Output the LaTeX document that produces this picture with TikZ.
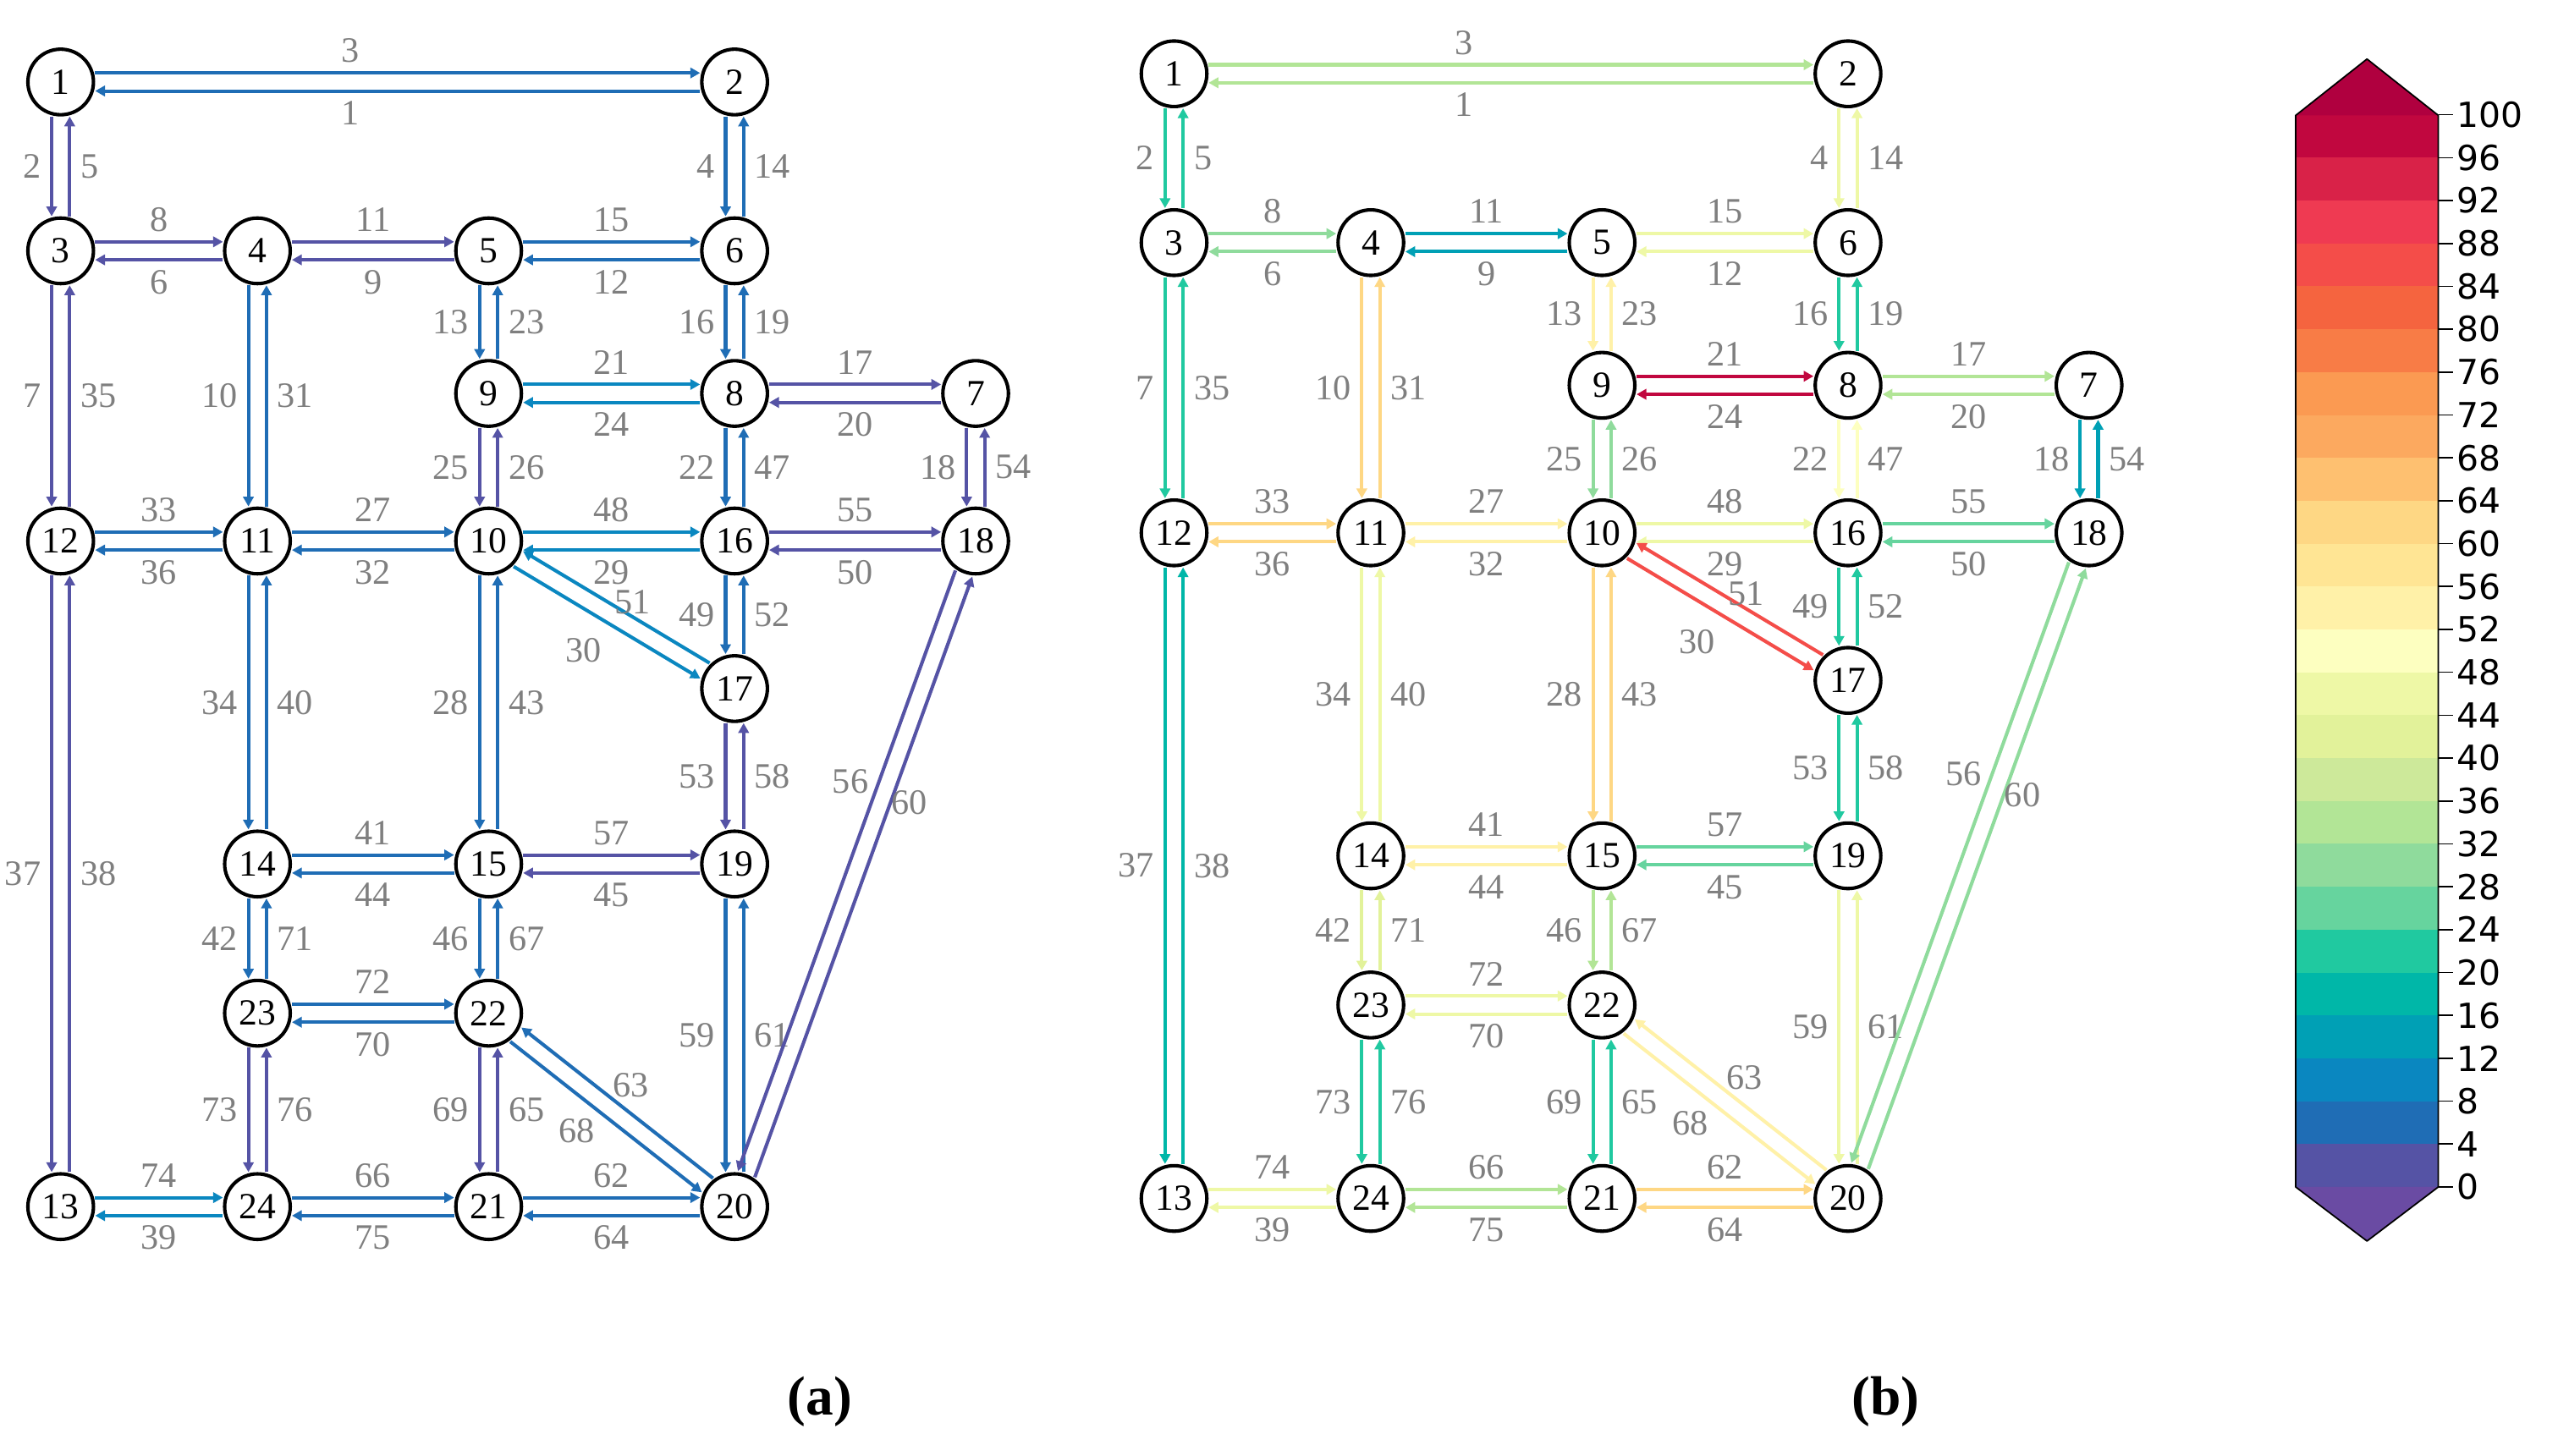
\documentclass[tikz,border=0pt]{standalone}
\usepackage{fontspec}
\setmainfont{Liberation Serif}
\newfontfamily\barfont{DejaVu Sans}
\usetikzlibrary{calc,arrows.meta}
\definecolor{c0}{HTML}{5553A5}\definecolor{c1}{HTML}{1F6DB5}\definecolor{c2}{HTML}{0A87C0}
\definecolor{c3}{HTML}{00A0B5}\definecolor{c4}{HTML}{00B7A8}\definecolor{c5}{HTML}{20C9A0}
\definecolor{c6}{HTML}{66D49E}\definecolor{c7}{HTML}{8FDB9C}\definecolor{c8}{HTML}{B2E596}
\definecolor{c9}{HTML}{CDE99A}\definecolor{c10}{HTML}{E2F29A}\definecolor{c11}{HTML}{EEF8A6}
\definecolor{c12}{HTML}{FDFFC0}\definecolor{c13}{HTML}{FFF1A8}\definecolor{c14}{HTML}{FFE594}
\definecolor{c15}{HTML}{FED784}\definecolor{c16}{HTML}{FEC070}\definecolor{c17}{HTML}{FCA95F}
\definecolor{c18}{HTML}{FB9A52}\definecolor{c19}{HTML}{F87C46}\definecolor{c20}{HTML}{F5643F}
\definecolor{c21}{HTML}{F44D49}\definecolor{c22}{HTML}{EF3A52}\definecolor{c23}{HTML}{D92248}
\definecolor{c24}{HTML}{C1073F}\definecolor{ctop}{HTML}{B0003F}\definecolor{cbot}{HTML}{6A4BA3}
\definecolor{labgray}{HTML}{7F7F7F}
\tikzset{
 nd/.style={circle,draw,line width=3pt,minimum size=2cm,inner sep=0pt,font=\fontsize{32}{34}\selectfont},
 arr/.style={line width=3pt,-{Triangle[length=8.5pt,width=9pt]}},
 lab/.style={inner sep=0pt,text=labgray,font=\fontsize{31}{33}\selectfont},
}
\newcommand\hp[6]{%
 \draw[arr,#3] ($(\P#1.east)+(0,-5.5)$) -- ($(\P#2.west)+(0,-5.5)$);
 \draw[arr,#3] ($(\P#2.west)+(0,5.5)$) -- ($(\P#1.east)+(0,5.5)$);
 \node[lab] (\P l#4) at ($(\P#1)!#6!(\P#2)+(0,-19)$) {#4};
 \node[lab] (\P l#5) at ($(\P#1)!#6!(\P#2)+(0,19)$) {#5};}
\newcommand\vp[5]{%
 \draw[arr,#3] ($(\P#1.south)+(-5.5,0)$) -- ($(\P#2.north)+(-5.5,0)$);
 \draw[arr,#3] ($(\P#2.north)+(5.5,0)$) -- ($(\P#1.south)+(5.5,0)$);
 \node[lab,anchor=east] (\P l#4) at ($(\P#1)!0.5!(\P#2)+(-12,0)$) {#4};
 \node[lab,anchor=west] (\P l#5) at ($(\P#1)!0.5!(\P#2)+(12,0)$) {#5};}
\newcommand\dpr[3]{%
 \draw[arr,#3] ($(\P#1)!30pt!(\P#2)!7.8pt!-90:(\P#2)$) -- ($(\P#2)!30pt!(\P#1)!7.8pt!90:(\P#1)$);
 \draw[arr,#3] ($(\P#2)!30pt!(\P#1)!7.8pt!-90:(\P#1)$) -- ($(\P#1)!30pt!(\P#2)!7.8pt!90:(\P#2)$);}
\newcommand\dl[6]{\node[lab] (\P l#6) at ($(\P#1)!#3!(\P#2)!#4!#5:(\P#2)$) {#6};}
\newcommand\netnodes{%
 \node[nd] (\P1) at (37,50) {1};
 \node[nd] (\P2) at (448,50) {2};
 \node[nd] (\P3) at (37,153) {3};
 \node[nd] (\P4) at (157,153) {4};
 \node[nd] (\P5) at (298,153) {5};
 \node[nd] (\P6) at (448,153) {6};
 \node[nd] (\P9) at (298,240) {9};
 \node[nd] (\P8) at (448,240) {8};
 \node[nd] (\P7) at (595,240) {7};
 \node[nd] (\P12) at (37,330) {12};
 \node[nd] (\P11) at (157,330) {11};
 \node[nd] (\P10) at (298,330) {10};
 \node[nd] (\P16) at (448,330) {16};
 \node[nd] (\P18) at (595,330) {18};
 \node[nd] (\P17) at (448,420) {17};
 \node[nd] (\P14) at (157,527) {14};
 \node[nd] (\P15) at (298,527) {15};
 \node[nd] (\P19) at (448,527) {19};
 \node[nd] (\P23) at (157,618) {23};
 \node[nd] (\P22) at (298,618) {22};
 \node[nd] (\P13) at (37,736) {13};
 \node[nd] (\P24) at (157,736) {24};
 \node[nd] (\P21) at (298,736) {21};
 \node[nd] (\P20) at (448,736) {20};}
\newcommand\difflabels{%
 \dl{10}{17}{0.48}{39pt}{-90}{30}\dl{10}{17}{0.54}{19pt}{90}{51}
 \dl{22}{20}{0.455}{33pt}{-90}{68}\dl{22}{20}{0.5}{27pt}{90}{63}
 \dl{18}{20}{0.38}{31pt}{-90}{56}\dl{18}{20}{0.38}{23pt}{90}{60}}
\begin{document}
\begin{tikzpicture}[x=0.05cm,y=-0.05cm]
\useasboundingbox[fill=white] (0,0) rectangle (1560,887.6);
\begin{scope}
\def\P{a}
\netnodes
\hp{1}{2}{c1}{3}{1}{0.43}
\hp{3}{4}{c0}{8}{6}{0.5}
\hp{4}{5}{c0}{11}{9}{0.5}
\hp{5}{6}{c1}{15}{12}{0.5}
\hp{9}{8}{c2}{21}{24}{0.5}
\hp{8}{7}{c0}{17}{20}{0.5}
\hp{12}{11}{c1}{33}{36}{0.5}
\hp{11}{10}{c1}{27}{32}{0.5}
\hp{10}{16}{c2}{48}{29}{0.5}
\hp{16}{18}{c0}{55}{50}{0.5}
\hp{14}{15}{c1}{41}{44}{0.5}
\hp{15}{19}{c0}{57}{45}{0.5}
\hp{23}{22}{c1}{72}{70}{0.5}
\hp{13}{24}{c2}{74}{39}{0.5}
\hp{24}{21}{c1}{66}{75}{0.5}
\hp{21}{20}{c1}{62}{64}{0.5}
\vp{1}{3}{c0}{2}{5}
\vp{2}{6}{c1}{4}{14}
\vp{3}{12}{c0}{7}{35}
\vp{4}{11}{c1}{10}{31}
\vp{5}{9}{c1}{13}{23}
\vp{6}{8}{c1}{16}{19}
\vp{9}{10}{c0}{25}{26}
\vp{8}{16}{c1}{22}{47}
\vp{7}{18}{c0}{18}{54}
\vp{12}{13}{c0}{37}{38}
\vp{11}{14}{c1}{34}{40}
\vp{10}{15}{c1}{28}{43}
\vp{16}{17}{c1}{49}{52}
\vp{17}{19}{c0}{53}{58}
\vp{19}{20}{c1}{59}{61}
\vp{14}{23}{c1}{42}{71}
\vp{15}{22}{c1}{46}{67}
\vp{23}{24}{c0}{73}{76}
\vp{22}{21}{c0}{69}{65}
\dpr{10}{17}{c2}
\dpr{22}{20}{c1}
\dpr{18}{20}{c0}
\difflabels
\end{scope}
\begin{scope}[shift={(679,-5)}]
\def\P{b}
\netnodes
\hp{1}{2}{c8}{3}{1}{0.43}
\hp{3}{4}{c7}{8}{6}{0.5}
\hp{4}{5}{c3}{11}{9}{0.5}
\hp{5}{6}{c11}{15}{12}{0.5}
\hp{9}{8}{c24}{21}{24}{0.5}
\hp{8}{7}{c8}{17}{20}{0.5}
\hp{12}{11}{c15}{33}{36}{0.5}
\hp{11}{10}{c13}{27}{32}{0.5}
\hp{10}{16}{c11}{48}{29}{0.5}
\hp{16}{18}{c6}{55}{50}{0.5}
\hp{14}{15}{c13}{41}{44}{0.5}
\hp{15}{19}{c6}{57}{45}{0.5}
\hp{23}{22}{c11}{72}{70}{0.5}
\hp{13}{24}{c11}{74}{39}{0.5}
\hp{24}{21}{c8}{66}{75}{0.5}
\hp{21}{20}{c15}{62}{64}{0.5}
\vp{1}{3}{c5}{2}{5}
\vp{2}{6}{c11}{4}{14}
\vp{3}{12}{c5}{7}{35}
\vp{4}{11}{c15}{10}{31}
\vp{5}{9}{c13}{13}{23}
\vp{6}{8}{c5}{16}{19}
\vp{9}{10}{c7}{25}{26}
\vp{8}{16}{c12}{22}{47}
\vp{7}{18}{c3}{18}{54}
\vp{12}{13}{c4}{37}{38}
\vp{11}{14}{c11}{34}{40}
\vp{10}{15}{c15}{28}{43}
\vp{16}{17}{c5}{49}{52}
\vp{17}{19}{c5}{53}{58}
\vp{19}{20}{c11}{59}{61}
\vp{14}{23}{c10}{42}{71}
\vp{15}{22}{c8}{46}{67}
\vp{23}{24}{c5}{73}{76}
\vp{22}{21}{c5}{69}{65}
\dpr{10}{17}{c21}
\dpr{22}{20}{c13}
\dpr{18}{20}{c7}
\difflabels
\end{scope}
\foreach \i in {0,...,24}{
 \fill[c\i] (1400,{724-26.16*\i}) rectangle (1487,{724-26.16*(\i+1)});}
\fill[ctop] (1400,70.4) -- (1443.5,36) -- (1487,70.4) -- cycle;
\fill[cbot] (1400,724) -- (1443.5,757) -- (1487,724) -- cycle;
\draw[line width=1.3pt,line join=round] (1400,70.4) -- (1443.5,36) -- (1487,70.4) -- (1487,724) -- (1443.5,757) -- (1400,724) -- cycle;
\foreach \i in {0,...,25}{
 \pgfmathtruncatemacro\v{4*\i}
 \draw[line width=1.2pt] (1487,{724-26.16*\i}) -- (1496,{724-26.16*\i});
 \node[anchor=west,inner sep=0pt,font=\barfont\fontsize{30}{32}\selectfont] (tick\i) at (1498,{724-26.16*\i}) {\v};}
\node[font=\bfseries\fontsize{48}{50}\selectfont] (capa) at (500,855) {(a)};
\node[font=\bfseries\fontsize{48}{50}\selectfont] (capb) at (1150,855) {(b)};
\end{tikzpicture}
\end{document}
